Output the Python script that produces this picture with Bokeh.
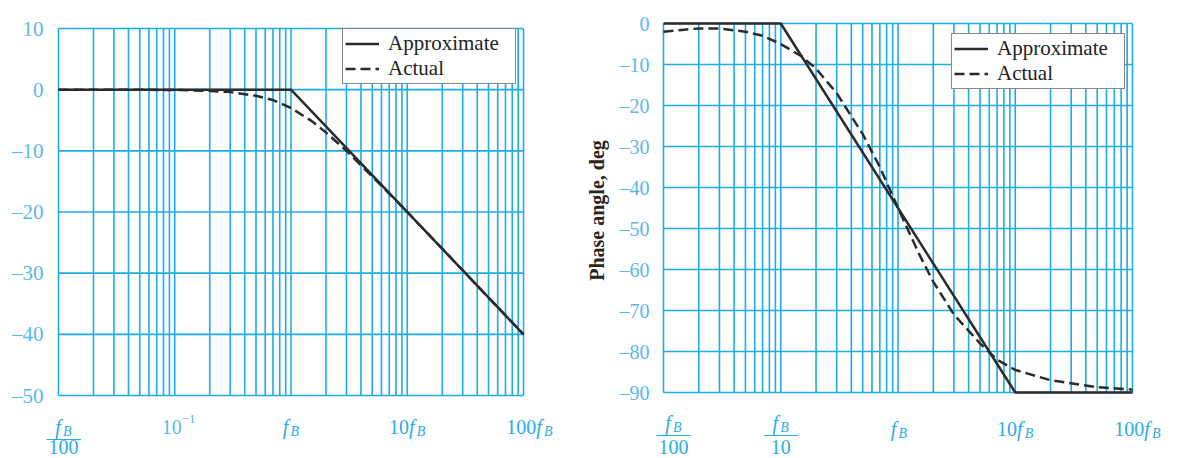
from bokeh.plotting import figure
from bokeh.models import Range1d, Legend, LegendItem
from bokeh.layouts import row
from bokeh.core.properties import value
from bokeh.embed import file_html
from bokeh.resources import INLINE
import math

# ---------------- data ----------------
decades = [0.01, 0.1, 1, 10, 100]

gain_approx_f = [0.01, 1, 100]
gain_approx_db = [0, 0, -40]
gain_actual_f = [0.01, 0.02, 0.03, 0.05, 0.1, 0.2, 0.3, 0.5, 0.7, 1, 1.5, 2, 3, 5, 7, 10, 20, 50, 100]
gain_actual_db = [0, 0, -0.01, -0.02, -0.05, -0.2, -0.4, -1.0, -1.7, -3.0, -5.1, -7.0, -10.0, -14.2, -17.0, -20.0, -26.0, -34.0, -40.0]

phase_approx_f = [0.01, 0.1, 10, 100]
phase_approx_deg = [0, 0, -90, -90]
phase_actual_f = [0.01, 0.015, 0.02, 0.03, 0.05, 0.07, 0.1, 0.15, 0.2, 0.3, 0.5, 0.7, 1, 1.5, 2, 3, 5, 7, 10, 20, 50, 100]
phase_actual_deg = [-2.0, -1.5, -1.2, -1.2, -2.0, -3.0, -5.0, -8.0, -11.0, -17.0, -27.0, -35.0, -45.0, -56.0, -63.0, -71.0, -78.0, -82.0, -84.5, -87.0, -88.7, -89.3]

gain_ticks = [10, 0, -10, -20, -30, -40, -50]
gain_tick_labels = ["10", "0", "\u201310", "\u201320", "\u201330", "\u201340", "\u201350"]
phase_ticks = [0, -10, -20, -30, -40, -50, -60, -70, -80, -90]
phase_tick_labels = ["0", "\u201310", "\u201320", "\u201330", "\u201340", "\u201350",
                     "\u201360", "\u201370", "\u201380", "\u201390"]

gain_xlabels = ["f_B/100", "10^-1", "f_B", "10f_B", "100f_B"]
phase_xlabels = ["f_B/100", "f_B/10", "f_B", "10f_B", "100f_B"]

legend_labels = ["Approximate", "Actual"]
phase_ylabel = "Phase angle, deg"

# ---------------- style ----------------
GRID = "#1CACE6"
TICK = "#5AB8EC"
XLBL = "#2AACE4"
LINE = "#2B2B2B"
SERIF = "Liberation Serif"
S = 20      # x label font px
SUB = 14    # subscript px
H = 458

minor = [m * d for d in decades[:-1] for m in range(2, 10)]


class Panel:
    """A figure whose frame fills the whole canvas; the grid box is placed by pixel borders."""

    def __init__(self, W, gl, gr, gt, gb, ylo, yhi):
        self.W, self.gl, self.gr, self.gt, self.gb = W, gl, gr, gt, gb
        lo, hi = math.log10(decades[0]), math.log10(decades[-1])
        self.xpp = (hi - lo) / (gr - gl)
        self.lo = lo
        self.ypp = (yhi - ylo) / (gb - gt)
        self.ytop = yhi + gt * self.ypp
        self.ylo, self.yhi = ylo, yhi
        x0 = 10 ** (lo - gl * self.xpp)
        x1 = 10 ** (hi + (W - gr) * self.xpp)
        p = figure(width=W, height=H, x_axis_type="log",
                   x_range=Range1d(x0, x1), y_range=Range1d(self.ypx(H), self.ytop),
                   output_backend="svg", toolbar_location=None,
                   min_border_left=0, min_border_right=0, min_border_top=0, min_border_bottom=0)
        p.axis.visible = False
        p.grid.visible = False
        p.outline_line_color = None
        p.background_fill_color = "white"
        p.border_fill_color = "white"
        self.p = p

    def ypx(self, py):
        return self.ytop - py * self.ypp

    def xpx(self, px):
        return 10 ** (self.lo + (px - self.gl) * self.xpp)

    def grid(self, yticks):
        xs = decades + minor
        self.p.segment(x0=xs, y0=[self.ylo] * len(xs), x1=xs, y1=[self.yhi] * len(xs),
                       line_color=GRID, line_width=1.6)
        self.p.segment(x0=[decades[0]] * len(yticks), y0=yticks,
                       x1=[decades[-1]] * len(yticks), y1=yticks,
                       line_color=GRID, line_width=1.6)

    def yticklabels(self, yticks, labels, standoff, size):
        self.p.text(x=[decades[0]] * len(yticks), y=yticks, text=labels, x_offset=-standoff,
                    text_font=value(SERIF), text_font_size=value(f"{size}px"),
                    text_color=TICK, text_align=value("right"), text_baseline=value("middle"))

    def txt(self, x, py, text, dx, size, italic=False, align="left", color=XLBL,
            bold=False, angle=0.0, baseline="alphabetic"):
        style = "bold" if bold else ("italic" if italic else "normal")
        self.p.text(x=[x], y=[self.ypx(py)], text=[text], x_offset=dx, angle=angle,
                    text_font=value(SERIF), text_font_size=value(f"{size}px"),
                    text_font_style=value(style), text_color=color,
                    text_align=value(align), text_baseline=value(baseline))

    def fB(self, x, py, prefix, dx):
        pw = 0.5 * S * len(prefix)
        fw = 0.38 * S
        bw = 0.62 * SUB
        start = dx - (pw + fw + bw) / 2
        if prefix:
            self.txt(x, py, prefix, start, S)
        self.txt(x, py, "f", start + pw, S, italic=True)
        self.txt(x, py + 5, "B", start + pw + fw, SUB, italic=True)

    def xlabel(self, x, spec, dx, base_py, num_py, bar_py, den_py):
        if "/" in spec:
            num, den = spec.split("/")
            self.fB(x, num_py, "", dx)
            self.txt(x, bar_py + 4, "\u2014\u2014", dx, 17, align="center")
            self.txt(x, den_py, den, dx, S, align="center")
        elif "^" in spec:
            base, exp = spec.split("^")
            self.txt(x, base_py, base, dx - 6, S, align="center", color=TICK)
            self.txt(x, base_py - 8, exp.replace("-", "\u2212"), dx + 4, 13, color=TICK)
        else:
            self.fB(x, base_py, spec.replace("f_B", ""), dx)

    def lines(self, fa, ya, fb, yb, box_left, box_bottom):
        p = self.p
        r1 = p.line(fa, ya, line_color=LINE, line_width=2.5)
        r2 = p.line(fb, yb, line_color=LINE, line_width=2.5, line_dash="10 5")
        leg = Legend(items=[LegendItem(label=legend_labels[0], renderers=[r1]),
                            LegendItem(label=legend_labels[1], renderers=[r2])],
                     location=(box_left, H - box_bottom))
        leg.label_text_font = SERIF
        leg.label_text_font_size = "21px"
        leg.label_text_color = "#222222"
        leg.label_height = 21
        leg.glyph_height = 21
        leg.glyph_width = 34
        leg.label_width = 125
        leg.label_standoff = 9
        leg.padding = 2
        leg.spacing = 0
        leg.margin = 0
        leg.border_line_color = "#111111"
        leg.border_line_width = 1.5
        leg.background_fill_color = "white"
        leg.background_fill_alpha = 1.0
        p.add_layout(leg)


# ---------------- gain plot ----------------
g = Panel(568, 58, 523, 28, 395, gain_ticks[-1], gain_ticks[0])
g.grid(gain_ticks)
g.yticklabels(gain_ticks, gain_tick_labels, 15, 21)
g.lines(gain_approx_f, gain_approx_db, gain_actual_f, gain_actual_db, 342, 84)
gain_dx = [5, 3, 0, 0, 6]
for xv, spec, dx in zip(decades, gain_xlabels, gain_dx):
    g.xlabel(xv, spec, dx, 426, 426, 433, 446)

# ---------------- phase plot ----------------
ph = Panel(624, 95, 564, 23, 392, phase_ticks[-1], phase_ticks[0])
ph.grid(phase_ticks)
ph.yticklabels(phase_ticks, phase_tick_labels, 14, 20)
ph.txt(ph.xpx(28), 210, phase_ylabel, 0, 20, bold=True, align="center",
       color="#2A2420", angle=math.pi / 2, baseline="middle")
ph.lines(phase_approx_f, phase_approx_deg, phase_actual_f, phase_actual_deg, 383, 89)
phase_dx = [10, 0, 1, 0, 5]
for xv, spec, dx in zip(decades, phase_xlabels, phase_dx):
    ph.xlabel(xv, spec, dx, 428, 422, 429, 446)

layout = row(g.p, ph.p)
open("out.html", "w").write(file_html(layout, INLINE))
